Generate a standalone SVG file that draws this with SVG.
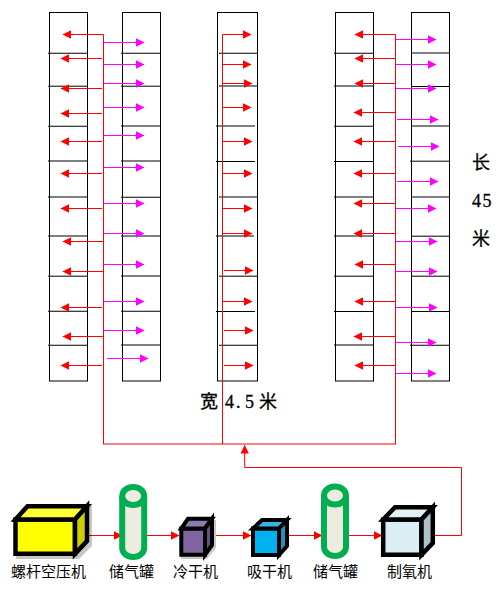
<svg xmlns="http://www.w3.org/2000/svg" width="501" height="589" viewBox="0 0 501 589">
<style>
.col{fill:none;stroke:#000;stroke-width:1}
.div{stroke:#000;stroke-width:1;fill:none}
.r{stroke:#f00;stroke-width:1;fill:none;marker-end:url(#ar)}
.m{stroke:#f0f;stroke-width:1;fill:none;marker-end:url(#am)}
.l{stroke:#f00;stroke-width:1;fill:none}
.e{stroke:#000;stroke-linejoin:miter;stroke-width:4.5}
.c{stroke:#000;stroke-linejoin:miter;stroke-width:4}
.tk{stroke:#00B050;stroke-width:6;fill:#EEECE1}
.sh{fill:#000;opacity:.22}
.lb{font-family:"Noto Sans CJK SC","Liberation Sans",sans-serif;font-size:15px;fill:#000}
.st{font-family:"Liberation Serif","Noto Sans CJK SC",serif;font-size:18px;fill:#000;stroke:#000;stroke-width:.3}
</style>
<defs>
<marker id="ar" markerUnits="userSpaceOnUse" markerWidth="9" markerHeight="9" refX="8" refY="4.500" orient="auto"><path d="M0,.3L8.500,4.500L0,8.700Z" fill="#f00"/></marker>
<marker id="am" markerUnits="userSpaceOnUse" markerWidth="9" markerHeight="9" refX="8" refY="4.500" orient="auto"><path d="M0,.3L8.500,4.500L0,8.700Z" fill="#f0f"/></marker>
</defs>
<g id="col-1">
<rect class="col" x="49.500" y="12.500" width="38" height="368.500"/>
<path class="div" d="M48,53.250H88M48,86.200H88M48,126.250H88M48,161H88M48,197H88M48,236H88M48,276.200H88M48,311.250H88M48,345.250H88"/>
</g>
<g id="col-2">
<rect class="col" x="122.500" y="12.500" width="38" height="368.500"/>
<path class="div" d="M121,53.250H161M121,86.200H161M121,126H161M121,161H161M121,197.250H161M121,236H161M121,276H161M121,311.250H161M121,345H161"/>
</g>
<g id="col-3">
<rect class="col" x="217.500" y="12.500" width="40" height="368.500"/>
<path class="div" d="M219,53.250H257M219,86H257M216,126H255M216,161.500H255M219,197H257M216,236H254M219,276.200H257M216,311.500H255M219,345.250H257"/>
</g>
<g id="col-4">
<rect class="col" x="335.500" y="12.500" width="38" height="368.500"/>
<path class="div" d="M334,53.250H373M334,86H373M334,126.250H373M334,161.500H373M334,197H373M334,236H373M334,276.200H373M334,311.500H373M334,345H373"/>
</g>
<g id="col-5">
<rect class="col" x="411.500" y="12.500" width="38" height="368.500"/>
<path class="div" d="M411,53H449M411,86.500H449M411,126H449M410,161.200H449M411,197H449M411,236.200H449M411,276.200H449M411,311.500H449M410,345.250H449"/>
</g>
<g id="connectors">
<path class="l" d="M103.500,34.500V444M222.500,34.500V444M395.500,34.500V444M103,444H396"/>
<path class="r" d="M103.500,34.500H63"/><path class="r" d="M102,58.500H61"/><path class="r" d="M102,88.500H61"/><path class="r" d="M102,113.500H61"/><path class="r" d="M102,141.500H61"/><path class="r" d="M102,173.500H61"/><path class="r" d="M102,208.500H61"/><path class="r" d="M103,241.500H63"/><path class="r" d="M103,271.500H63"/><path class="r" d="M102,307.500H61"/><path class="r" d="M103,336.500H63"/><path class="r" d="M102,365.500H61"/>
<path class="m" d="M104,42.500H144"/><path class="m" d="M104,64.500H144"/><path class="m" d="M104,83.500H144"/><path class="m" d="M104,107.500H144"/><path class="m" d="M104,135.500H144"/><path class="m" d="M104,167.500H144"/><path class="m" d="M104,203.500H144"/><path class="m" d="M104,233.500H144"/><path class="m" d="M104,264.500H144"/><path class="m" d="M104,301.500H144"/><path class="m" d="M104,330.500H144"/><path class="m" d="M107,358.500H148"/>
<path class="r" d="M222.500,34.500H251"/><path class="r" d="M223,64.500H251"/><path class="r" d="M223,83.500H252"/><path class="r" d="M223,107.500H251"/><path class="r" d="M223,141.500H252"/><path class="r" d="M223,173.500H252"/><path class="r" d="M223,208.500H252"/><path class="r" d="M223,233.500H252"/><path class="r" d="M224,270.500H253"/><path class="r" d="M223,301.500H252"/><path class="r" d="M224,330.500H253"/><path class="r" d="M224,365.500H253"/>
<path class="r" d="M395.500,34.500H355"/><path class="r" d="M395,58.500H355"/><path class="r" d="M395,83.500H355"/><path class="r" d="M395,112.500H354"/><path class="r" d="M395,141.500H354"/><path class="r" d="M395,173.500H354"/><path class="r" d="M395,203.500H354"/><path class="r" d="M395,233.500H354"/><path class="r" d="M395,264.500H355"/><path class="r" d="M395,301.500H355"/><path class="r" d="M395,336.500H354"/><path class="r" d="M395,365.500H355"/>
<path class="m" d="M396,39.500H436"/><path class="m" d="M396,64.500H436"/><path class="m" d="M396,88.500H436"/><path class="m" d="M397,119.500H438"/><path class="m" d="M398,146.500H439"/><path class="m" d="M397,181.500H438"/><path class="m" d="M396,208.500H436"/><path class="m" d="M396,241.500H437"/><path class="m" d="M396,271.500H437"/><path class="m" d="M396,307.500H437"/><path class="m" d="M396,342.500H436"/><path class="m" d="M396,373.500H436"/>
<path class="r" d="M433,535.500H461.500V467.500H244.700V445.500"/>
<path class="r" d="M87,535.500H122"/><path class="r" d="M144,535.500H179"/><path class="r" d="M216,535.500H251"/><path class="r" d="M289,535.500H322"/><path class="r" d="M349,535.500H382"/>
</g>
<g id="compressor">
<path class="sh" d="M27,506H92V546L79,559H16V519Z"/>
<path class="e" fill="#FFFF00" d="M15.500,519.500H75V553.800H15.500Z"/>
<path class="e" fill="#FFFF33" d="M15.500,519.500L27.500,506.200H87L75,519.500Z"/>
<path class="e" fill="#CDCD00" d="M75,519.500L87,506.200V541L75,553.800Z"/>
<text class="lb" x="11" y="577">螺杆空压机</text>
</g>
<g id="tank-1">
<path class="tk" d="M122.200,496V548A11,9 0 0 0 144.200,548V496"/>
<ellipse class="tk" cx="133.200" cy="496" rx="11" ry="9"/>
<text class="lb" x="109" y="577">储气罐</text>
</g>
<g id="dryer-cold">
<path class="sh" d="M188,520H216V548L207,559H181V530Z"/>
<path class="c" fill="#8064A2" d="M181.300,528.500H205V554.700H181.300Z"/>
<path class="c" fill="#9079AE" d="M181.300,528.500L188,518.700H212L205,528.500Z"/>
<path class="c" fill="#66508A" d="M205,528.500L212,518.700V545L205,554.700Z"/>
<text class="lb" x="173" y="577">冷干机</text>
</g>
<g id="dryer-adsorb">
<path class="c" fill="#00B0F0" d="M253,528.500H279V555H253Z"/>
<path class="c" fill="#33B5E0" d="M253,528.500L262,520H287L279,528.500Z"/>
<path class="c" fill="#2A90B8" d="M279,528.500L287,520V546L279,555Z"/>
<text class="lb" x="247" y="577">吸干机</text>
</g>
<g id="tank-2">
<path class="tk" d="M324,495.500V547A11,9 0 0 0 346,547V495.500"/>
<ellipse class="tk" cx="335" cy="495.500" rx="11" ry="9"/>
<text class="lb" x="313" y="577">储气罐</text>
</g>
<g id="oxygen">
<path fill="#DAEEF3" stroke="#000" stroke-width="4.500" d="M383.200,519.500H421.500V554.800H383.200Z"/>
<path fill="#E4F1F5" stroke="#000" stroke-width="4.500" d="M383.200,519.500L395,507.200H432.800L421.500,519.500Z"/>
<path fill="#AEC1C6" stroke="#000" stroke-width="4.500" d="M421.500,519.500L432.800,507.200V543L421.500,554.800Z"/>
<text class="lb" x="387" y="577">制氧机</text>
</g>
<g id="labels">
<text class="st" x="200 218 225 236 245 254 259" y="408">宽 4.5 米</text>
<text class="st" x="472" y="169">长</text>
<text class="st" x="472 482.500" y="207">45</text>
<text class="st" x="472" y="245">米</text>
</g>
</svg>
